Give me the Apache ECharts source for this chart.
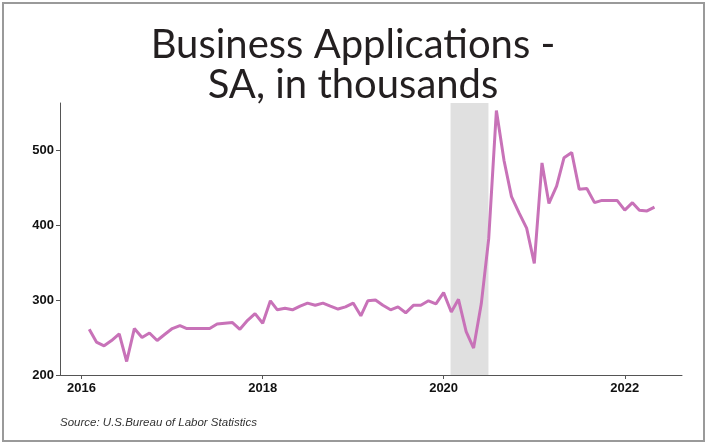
<!DOCTYPE html>
<html>
<head>
<meta charset="utf-8">
<script src="https://cdn.jsdelivr.net/npm/echarts@6/dist/echarts.min.js"></script>
<style>
  html, body { margin: 0; padding: 0; background: #fff; }
  #main { width: 706px; height: 444px; }
</style>
</head>
<body>
<div id="main"></div>
<script>
// monthly business applications, SA, thousands (Feb 2016 - May 2022)
var months = [];
(function () {
	var y = 2016, m = 2;
	for (var i = 0; i < 76; i++) {
		months.push(y + '-' + (m < 10 ? '0' + m : m) + '-01');
		m++;
		if (m > 12) { m = 1; y++; }
	}
})();
var applications = [
	261, 244, 239, 246, 255, 218, 262, 250, 256, 246, 254,
	262, 266, 262, 262, 262, 262, 268, 269, 270, 261, 273, 282,
	269, 299, 287, 289, 287, 292, 296, 293, 296, 292, 288, 291,
	296, 279, 299, 300, 293, 287, 291, 283, 293, 293, 299, 295,
	310, 284, 301, 258, 236, 295, 382, 553, 486, 438, 416, 396,
	349, 483, 429, 452, 490, 497, 448, 449, 430, 433, 433, 433,
	420, 430, 420, 419, 424
];
var yearTicks = ['2016-01-01', '2018-01-01', '2020-01-01', '2022-01-01'];
var valueTicks = [200, 300, 400, 500];
var shadeRange = ['2020-01-29', '2020-06-30'];

function ts(d) { return +new Date(d + 'T00:00:00Z'); }

var seriesData = [];
for (var i = 0; i < months.length; i++) {
	seriesData.push([ts(months[i]), applications[i]]);
}
var yearTickTimes = yearTicks.map(ts);

var myChart = echarts.init(document.getElementById('main'));
var option = {
	animation: false,
	title: {
		text: 'Business Applications -\nSA, in thousands',
		left: 'center',
		top: 20,
		textStyle: {
			fontFamily: 'Lato',
			fontWeight: 'normal',
			fontSize: 40,
			lineHeight: 40,
			color: '#231f20'
		}
	},
	graphic: [{
		type: 'rect',
		shape: { x: 3, y: 3, width: 701, height: 438 },
		style: { fill: 'none', stroke: '#9a9a9a', lineWidth: 2 }
	}, {
		type: 'text',
		left: 60,
		top: 417,
		style: {
			text: 'Source: U.S.Bureau of Labor Statistics',
			fontFamily: 'Liberation Sans',
			fontStyle: 'italic',
			fontSize: 11.5,
			fill: '#333'
		}
	}],
	grid: { left: 60, right: 24, top: 103, bottom: 69 },
	xAxis: {
		type: 'value',
		min: ts('2015-10-06'),
		max: ts('2022-08-20'),
		splitLine: { show: false },
		axisLine: { lineStyle: { color: '#555', width: 1 } },
		axisTick: { show: true, length: 4, customValues: yearTickTimes, lineStyle: { color: '#555' } },
		axisLabel: {
			customValues: yearTickTimes,
			formatter: function (v) { return new Date(v).getUTCFullYear() + ''; },
			fontFamily: 'Liberation Sans',
			fontWeight: 'bold',
			fontSize: 13,
			color: '#111',
			margin: 7
		}
	},
	yAxis: {
		type: 'value',
		min: 200,
		max: 563,
		interval: 100,
		splitLine: { show: false },
		axisLine: { show: true, lineStyle: { color: '#555', width: 1 } },
		axisTick: { show: true, length: 4, customValues: valueTicks, lineStyle: { color: '#555' } },
		axisLabel: {
			customValues: valueTicks,
			fontFamily: 'Liberation Sans',
			fontWeight: 'bold',
			fontSize: 13,
			color: '#111',
			margin: 6
		}
	},
	series: [{
		name: 'Business Applications',
		type: 'line',
		data: seriesData,
		symbol: 'none',
		lineStyle: { color: '#c872b8', width: 3 },
		markArea: {
			silent: true,
			itemStyle: { color: '#e0e0e0' },
			data: [[{ xAxis: ts(shadeRange[0]) }, { xAxis: ts(shadeRange[1]) }]]
		},
		z: 3
	}]
};
myChart.setOption(option, true);
</script>
</body>
</html>
